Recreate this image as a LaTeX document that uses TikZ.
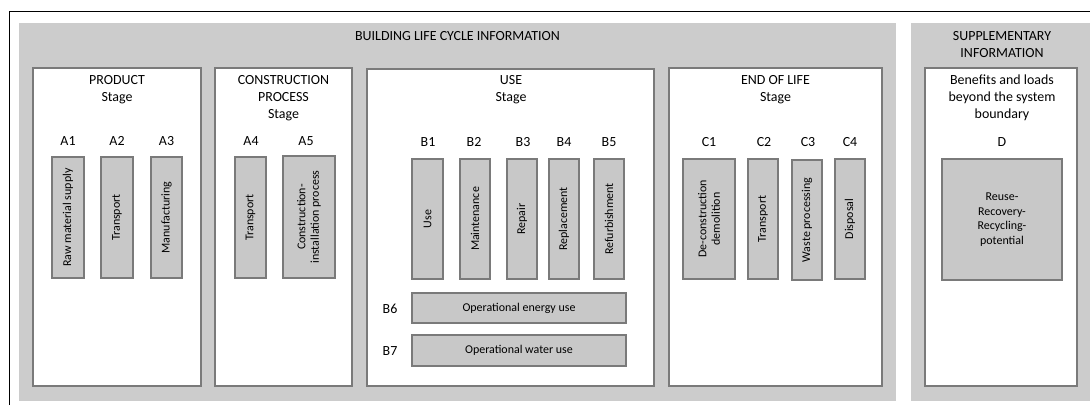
\documentclass[tikz,border=0pt]{standalone}
\usepackage{fontspec}
\setmainfont{Carlito}
\definecolor{panelgray}{HTML}{CCCCCC}
\definecolor{boxgray}{HTML}{C8C8C8}
\definecolor{edgegray}{HTML}{7A7A7A}
\begin{document}
\begin{tikzpicture}[x=1bp,y=-1bp,
  panel/.style={fill=panelgray,draw=none},
  stagebox/.style={fill=white,draw=edgegray,line width=1.2bp},
  sbox/.style={fill=boxgray,draw=edgegray,line width=1.2bp,inner sep=0pt,font=\fontsize{12}{13.5}\selectfont,align=center},
  vbox/.style={sbox,rotate=90},
  code/.style={font=\fontsize{14}{16}\selectfont,inner sep=0pt},
  title/.style={font=\fontsize{14}{17}\selectfont,align=center,inner sep=0pt}]
\useasboundingbox (0,0) rectangle (1090,405);
% outer frame
\draw[line width=1bp] (9,405) -- (9,11) -- (1090,11);
% panels
\fill[panelgray] (19,23) rectangle (896,401);
\fill[panelgray] (911,23) rectangle (1090,401);
\node[title] (bl) at (457.5,36) {BUILDING LIFE CYCLE INFORMATION};
\node[title] (si) at (1002,44.5) {SUPPLEMENTARY\\INFORMATION};
% stage boxes
\draw[stagebox] (33,68) rectangle (201,386);
\draw[stagebox] (215,68) rectangle (352,386);
\draw[stagebox] (367,69) rectangle (654,386);
\draw[stagebox] (669,68) rectangle (882,386);
\draw[stagebox] (925,68) rectangle (1077,386);
\node[title] (tp) at (117,89.5) {PRODUCT\\Stage};
\node[title] (tc) at (283.5,98) {CONSTRUCTION\\PROCESS\\Stage};
\node[title] (tu) at (511,89.5) {USE\\Stage};
\node[title] (te) at (775.5,89.5) {END OF LIFE\\Stage};
\node[title] (tb) at (1002,98) {Benefits and loads\\beyond the system\\boundary};
% codes
\node[code] (la1) at (68,141) {A1};
\node[code] (la2) at (117,141) {A2};
\node[code] (la3) at (166.5,141) {A3};
\node[code] (la4) at (251,141) {A4};
\node[code] (la5) at (306,141) {A5};
\node[code] (lb1) at (428,142) {B1};
\node[code] (lb2) at (474,142) {B2};
\node[code] (lb3) at (523,142) {B3};
\node[code] (lb4) at (564,142) {B4};
\node[code] (lb5) at (609,142) {B5};
\node[code] (lb6) at (390,309) {B6};
\node[code] (lb7) at (390,351) {B7};
\node[code] (lc1) at (709,142) {C1};
\node[code] (lc2) at (764,142) {C2};
\node[code] (lc3) at (808,142) {C3};
\node[code] (lc4) at (850,142) {C4};
\node[code] (ld) at (1002,142) {D};
% vertical boxes (minimum width = height on page)
\node[vbox,minimum width=121bp,minimum height=32bp] (a1) at (68,217.5) {Raw material supply};
\node[vbox,minimum width=121bp,minimum height=32bp] (a2) at (117,217.5) {Transport};
\node[vbox,minimum width=121bp,minimum height=31bp] (a3) at (166.5,217.5) {Manufacturing};
\node[vbox,minimum width=121bp,minimum height=31bp] (a4) at (250.5,217.5) {Transport};
\node[vbox,minimum width=122bp,minimum height=52bp] (a5) at (309,217) {Construction-\\installation process};
\node[vbox,minimum width=120bp,minimum height=31bp] (b1) at (427.5,219) {Use};
\node[vbox,minimum width=120bp,minimum height=30bp] (b2) at (475,219) {Maintenance};
\node[vbox,minimum width=120bp,minimum height=30bp] (b3) at (522,219) {Repair};
\node[vbox,minimum width=120bp,minimum height=30bp] (b4) at (564,219) {Replacement};
\node[vbox,minimum width=120bp,minimum height=30bp] (b5) at (609,219) {Refurbishment};
\node[sbox,minimum width=214bp,minimum height=30bp] (b6) at (519,308) {Operational energy use};
\node[sbox,minimum width=214bp,minimum height=31bp] (b7) at (519,350.5) {Operational water use};
\node[vbox,minimum width=120bp,minimum height=52bp] (c1) at (709,219) {De-construction\\demolition};
\node[vbox,minimum width=120bp,minimum height=30bp] (c2) at (763,219) {Transport};
\node[vbox,minimum width=120bp,minimum height=30bp] (c3) at (807,220) {Waste processing};
\node[vbox,minimum width=120bp,minimum height=30bp] (c4) at (850,219) {Disposal};
\node[sbox,minimum width=120bp,minimum height=121bp,font=\fontsize{12}{14.5}\selectfont] (d) at (1002,219.5) {Reuse-\\Recovery-\\Recycling-\\potential};
\end{tikzpicture}
\end{document}
